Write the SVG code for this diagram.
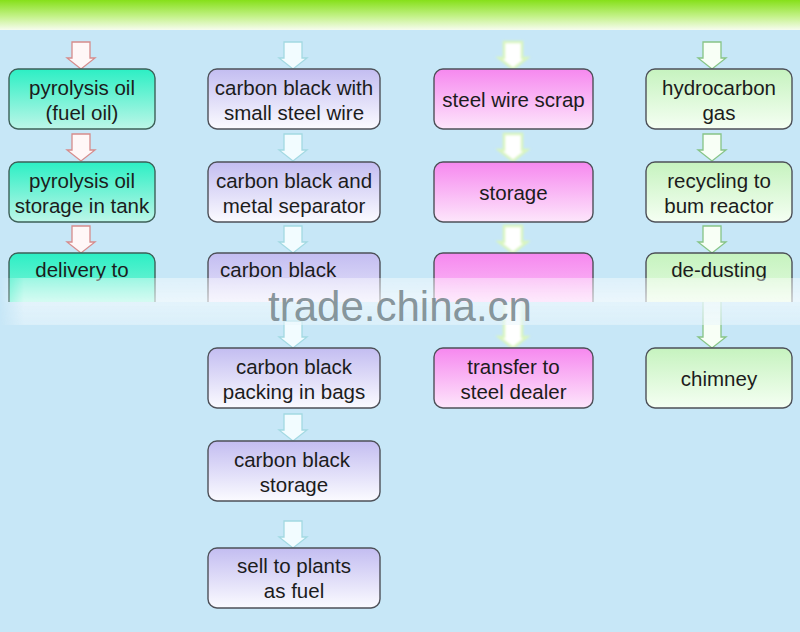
<svg xmlns="http://www.w3.org/2000/svg" width="800" height="632" viewBox="0 0 800 632">
<defs>
<linearGradient id="top" x1="0" y1="0" x2="0" y2="1">
<stop offset="0" stop-color="#86e01a"/>
<stop offset="0.55" stop-color="#c4f28a"/>
<stop offset="1" stop-color="#f6fcef"/>
</linearGradient>
<linearGradient id="g1" x1="0" y1="0" x2="0" y2="1">
<stop offset="0" stop-color="#2cefc4"/>
<stop offset="1" stop-color="#bdf6e8"/>
</linearGradient>
<linearGradient id="g2" x1="0" y1="0" x2="0" y2="1">
<stop offset="0" stop-color="#c3bdf1"/>
<stop offset="1" stop-color="#fbfbff"/>
</linearGradient>
<linearGradient id="g3" x1="0" y1="0" x2="0" y2="1">
<stop offset="0" stop-color="#f688ef"/>
<stop offset="1" stop-color="#fde6fb"/>
</linearGradient>
<linearGradient id="g4" x1="0" y1="0" x2="0" y2="1">
<stop offset="0" stop-color="#c6f3bf"/>
<stop offset="1" stop-color="#f5fff3"/>
</linearGradient>
<linearGradient id="band" x1="0" y1="0" x2="0" y2="1">
<stop offset="0" stop-color="#ffffff" stop-opacity="0.4"/>
<stop offset="0.5" stop-color="#ffffff" stop-opacity="0.65"/>
<stop offset="0.52" stop-color="#eaf6fc" stop-opacity="0.8"/>
<stop offset="1" stop-color="#eaf6fc" stop-opacity="0.55"/>
</linearGradient>
<linearGradient id="bandfade" x1="0" y1="0" x2="1" y2="0">
<stop offset="0" stop-color="#fff" stop-opacity="0"/>
<stop offset="0.03" stop-color="#fff" stop-opacity="1"/>
<stop offset="1" stop-color="#fff" stop-opacity="1"/>
</linearGradient>
<mask id="bm"><rect x="0" y="270" width="800" height="70" fill="url(#bandfade)"/></mask>
<clipPath id="cut"><rect x="0" y="0" width="800" height="302"/></clipPath>
<filter id="glow" x="-50%" y="-50%" width="200%" height="200%"><feGaussianBlur stdDeviation="1.2"/></filter>
<path id="arr" d="M-9,0 H9 V16 H14 L0,27 L-14,16 H-9 Z"/>
<path id="arrL" d="M-9,0 H9 V37 H14 L0,48 L-14,37 H-9 Z"/>
<style>
.b{stroke:#4d5058;stroke-width:1.4}
.c1{fill:url(#g1);stroke:#3d6058}
.c2{fill:url(#g2)}
.c3{fill:url(#g3)}
.c4{fill:url(#g4)}
text{font-family:"Liberation Sans",Arial,sans-serif;font-size:20.5px;fill:#1c1c1c;text-anchor:middle}
.a1{fill:#fff7f7;stroke:#d68c8c;stroke-width:1.3}
.a2{fill:#f2fcff;stroke:#a3d9e2;stroke-width:1.3}
.a3{fill:#ffffff;stroke:#d9f5bd;stroke-width:2.5;filter:url(#glow)}
.a4{fill:#f8fff6;stroke:#86c486;stroke-width:1.3}
.wm{font-size:42px;fill:#7a898f;fill-opacity:0.9}
</style>
</defs>
<rect width="800" height="632" fill="#c7e7f7"/>
<rect width="800" height="30" fill="url(#top)"/>

<g id="connectors">
<use href="#arr" x="81" y="42" class="a1"/>
<use href="#arr" x="81" y="134" class="a1"/>
<use href="#arr" x="81" y="226" class="a1"/>
<use href="#arr" x="293" y="42" class="a2"/>
<use href="#arr" x="293" y="134" class="a2"/>
<use href="#arr" x="293" y="226" class="a2"/>
<use href="#arr" x="293" y="321" class="a2"/>
<use href="#arr" x="293" y="414" class="a2"/>
<use href="#arr" x="293" y="521" class="a2"/>
<use href="#arr" x="513" y="42" class="a3"/>
<use href="#arr" x="513" y="134" class="a3"/>
<use href="#arr" x="513" y="226" class="a3"/>
<use href="#arrL" x="513" y="300" class="a3"/>
<use href="#arr" x="712" y="42" class="a4"/>
<use href="#arr" x="712" y="134" class="a4"/>
<use href="#arr" x="712" y="226" class="a4"/>
<use href="#arrL" x="712" y="300" class="a4"/>
</g>

<g id="n1"><rect class="b c1" x="9" y="69" width="146" height="60" rx="9"/><text x="82" y="95">pyrolysis oil</text><text x="82" y="120">(fuel oil)</text></g>
<g id="n2"><rect class="b c1" x="9" y="162" width="146" height="60" rx="9"/><text x="82" y="188">pyrolysis oil</text><text x="82" y="213">storage in tank</text></g>
<g id="n3" clip-path="url(#cut)"><rect class="b c1" x="9" y="253" width="146" height="80" rx="9"/><text x="82" y="277">delivery to</text></g>

<g id="n4"><rect class="b c2" x="208" y="69" width="172" height="60" rx="9"/><text x="294" y="95">carbon black with</text><text x="294" y="120">small steel wire</text></g>
<g id="n5"><rect class="b c2" x="208" y="162" width="172" height="60" rx="9"/><text x="294" y="188">carbon black and</text><text x="294" y="213">metal separator</text></g>
<g id="n6" clip-path="url(#cut)"><rect class="b c2" x="208" y="253" width="172" height="80" rx="9"/><text x="220" y="277" style="text-anchor:start">carbon black</text></g>
<g id="n7"><rect class="b c2" x="208" y="348" width="172" height="60" rx="9"/><text x="294" y="374">carbon black</text><text x="294" y="399">packing in bags</text></g>
<g id="n8"><rect class="b c2" x="208" y="441" width="172" height="60" rx="9"/><text x="292" y="467">carbon black</text><text x="294" y="492">storage</text></g>
<g id="n9"><rect class="b c2" x="208" y="548" width="172" height="60" rx="9"/><text x="294" y="573">sell to plants</text><text x="294" y="598">as fuel</text></g>

<g id="n10"><rect class="b c3" x="434" y="69" width="159" height="60" rx="9"/><text x="513.5" y="107">steel wire scrap</text></g>
<g id="n11"><rect class="b c3" x="434" y="162" width="159" height="60" rx="9"/><text x="513.5" y="200">storage</text></g>
<g id="n12" clip-path="url(#cut)"><rect class="b c3" x="434" y="253" width="159" height="80" rx="9"/></g>
<g id="n13"><rect class="b c3" x="434" y="348" width="159" height="60" rx="9"/><text x="513.5" y="374">transfer to</text><text x="513.5" y="399">steel dealer</text></g>

<g id="n14"><rect class="b c4" x="646" y="69" width="146" height="60" rx="9"/><text x="719" y="95">hydrocarbon</text><text x="719" y="120">gas</text></g>
<g id="n15"><rect class="b c4" x="646" y="162" width="146" height="60" rx="9"/><text x="719" y="188">recycling to</text><text x="719" y="213">bum reactor</text></g>
<g id="n16" clip-path="url(#cut)"><rect class="b c4" x="646" y="253" width="146" height="80" rx="9"/><text x="719" y="277">de-dusting</text></g>
<g id="n17"><rect class="b c4" x="646" y="348" width="146" height="60" rx="9"/><text x="719" y="386">chimney</text></g>

<g id="watermark">
<rect x="0" y="278" width="800" height="47" fill="url(#band)" mask="url(#bm)"/>
<text class="wm" x="400" y="321">trade.china.cn</text>
</g>
</svg>
